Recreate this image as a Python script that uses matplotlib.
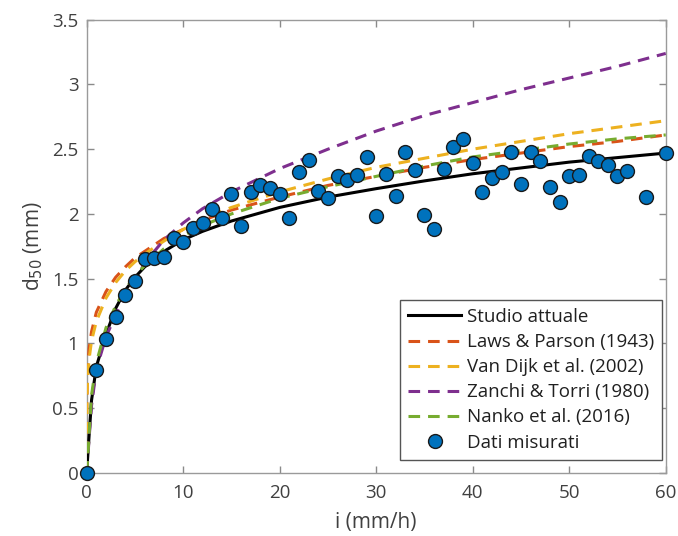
import matplotlib
matplotlib.use("Agg")
import matplotlib.pyplot as plt
import numpy as np

plt.rcParams['font.family'] = ['Open Sans', 'DejaVu Sans']

# measured data (i in mm/h, d50 in mm)
i_meas = [0, 1, 2, 3, 4, 5, 6, 7, 8, 9, 10, 11, 12, 13, 14, 15, 16, 17, 18, 19,
          20, 21, 22, 23, 24, 25, 26, 27, 28, 29, 30, 31, 32, 33, 34, 35, 36, 37,
          38, 39, 40, 41, 42, 43, 44, 45, 46, 47, 48, 49, 50, 51, 52, 53, 54, 55,
          56, 58, 60]
d_meas = [0.00, 0.79, 1.03, 1.20, 1.37, 1.48, 1.65, 1.66, 1.67, 1.81, 1.78, 1.89,
          1.93, 2.04, 1.97, 2.15, 1.91, 2.17, 2.22, 2.20, 2.15, 1.97, 2.32, 2.42,
          2.18, 2.12, 2.29, 2.26, 2.30, 2.44, 1.98, 2.31, 2.14, 2.48, 2.34, 1.99,
          1.88, 2.35, 2.52, 2.58, 2.39, 2.17, 2.28, 2.32, 2.48, 2.23, 2.48, 2.41,
          2.21, 2.09, 2.29, 2.30, 2.45, 2.41, 2.38, 2.29, 2.33, 2.13, 2.47]

# model curves, values
i_curve = [0, 0.01, 0.05, 0.1, 0.25, 0.5, 1, 2, 3, 4, 5, 6, 8, 10, 12, 15, 20,
           25, 30, 35, 40, 45, 50, 55, 60]
d_studio = [0, 0.01, 0.06, 0.12, 0.29, 0.56, 0.82, 1.07, 1.27, 1.41, 1.51, 1.59,
            1.71, 1.80, 1.865, 1.945, 2.05, 2.13, 2.195, 2.255, 2.31, 2.355, 2.40,
            2.435, 2.47]
d_laws = [0, 0.54, 0.71, 0.82, 0.96, 1.09, 1.24, 1.40, 1.51, 1.59, 1.66, 1.71,
          1.81, 1.88, 1.95, 2.03, 2.13, 2.22, 2.29, 2.36, 2.42, 2.47, 2.52, 2.56, 2.61]
d_vandijk = [0, 0.46, 0.64, 0.73, 0.88, 1.02, 1.17, 1.35, 1.47, 1.56, 1.63, 1.69,
             1.79, 1.88, 1.96, 2.05, 2.17, 2.27, 2.36, 2.43, 2.50, 2.56, 2.62, 2.67, 2.72]
d_zanchi = [0, 0.01, 0.05, 0.1, 0.27, 0.52, 0.80, 1.05, 1.22, 1.36, 1.48, 1.62,
            1.80, 1.93, 2.04, 2.17, 2.35, 2.50, 2.64, 2.76, 2.86, 2.96, 3.05, 3.14, 3.24]
d_nanko = [0, 0.01, 0.05, 0.1, 0.3, 0.6, 0.85, 1.12, 1.29, 1.42, 1.52, 1.60,
           1.73, 1.83, 1.91, 2.00, 2.12, 2.21, 2.29, 2.37, 2.44, 2.49, 2.54, 2.58, 2.61]

labels = ['Studio attuale', 'Laws & Parson (1943)', 'Van Dijk et al. (2002)',
          'Zanchi & Torri (1980)', 'Nanko et al. (2016)', 'Dati misurati']

fig = plt.figure(figsize=(6.78, 5.36), dpi=100)
ax = fig.add_axes([0.1279, 0.1181, 0.854, 0.845])

dash = (3.8, 2.6)
ax.plot(i_curve, d_studio, color='black', lw=2.2, label=labels[0], zorder=3)
ax.plot(i_curve, d_laws, color='#D95319', lw=2.2, dashes=dash, label=labels[1], zorder=3)
ax.plot(i_curve, d_vandijk, color='#EDB120', lw=2.2, dashes=dash, label=labels[2], zorder=3)
ax.plot(i_curve, d_zanchi, color='#7E2F8E', lw=2.2, dashes=dash, label=labels[3], zorder=3)
ax.plot(i_curve, d_nanko, color='#77AC30', lw=2.2, dashes=dash, label=labels[4], zorder=3)
ax.plot(i_meas, d_meas, 'o', ms=10, mfc='#0072BD', mec='#1a1a1a', mew=1.0,
        label=labels[5], zorder=4, clip_on=False)

ax.set_xlim(0, 60)
ax.set_ylim(0, 3.5)
ax.set_xticks(np.arange(0, 61, 10))
ax.set_yticks(np.arange(0, 3.51, 0.5))
ax.set_yticklabels(['0', '0.5', '1', '1.5', '2', '2.5', '3', '3.5'])

for s in ax.spines.values():
    s.set_color('#9a9a9a')
    s.set_linewidth(1.0)
ax.tick_params(direction='in', top=True, right=True, length=5, width=1.0,
               color='#8a8a8a', labelsize=13.5, labelcolor='#404040')
ax.tick_params(axis='x', pad=8)
ax.tick_params(axis='y', pad=6)

ax.set_xlabel('i (mm/h)', fontsize=15, color='#404040', labelpad=7)
ax.set_ylabel('d$_{50}$ (mm)', fontsize=15, color='#404040', labelpad=5)

leg = ax.legend(loc='lower right', bbox_to_anchor=(0.994, 0.028), fontsize=13.5,
                frameon=True, fancybox=False, edgecolor='#555555', framealpha=1,
                handlelength=2.8, handletextpad=0.3, labelspacing=0.38,
                borderpad=0.45, borderaxespad=0)
leg.get_frame().set_linewidth(1.0)
for t in leg.get_texts():
    t.set_color('#202020')

fig.savefig('out.png', dpi=100)
